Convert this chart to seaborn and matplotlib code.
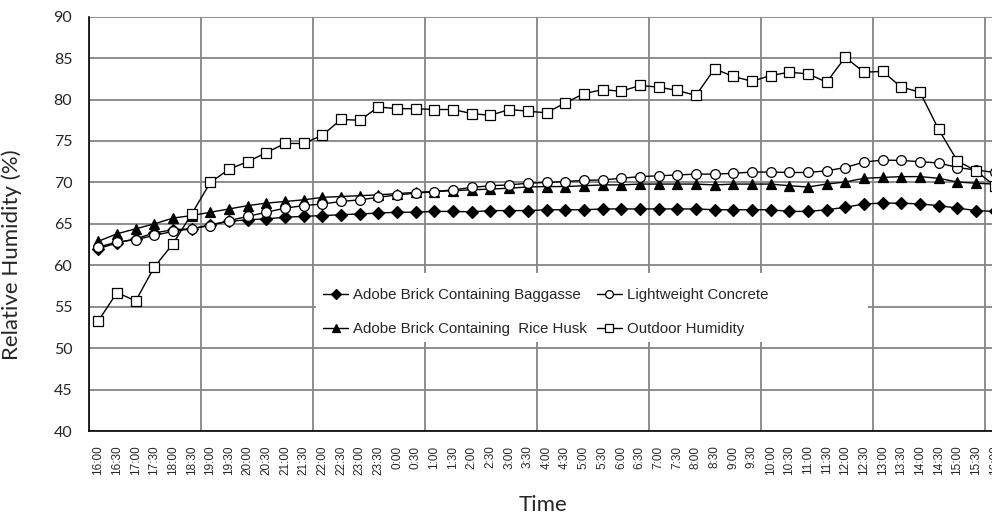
import numpy as np
import pandas as pd
import matplotlib
matplotlib.use('Agg')
import matplotlib.pyplot as plt
from matplotlib.lines import Line2D
from matplotlib.patches import Rectangle
import seaborn as sns

sns.set_style('white')

# time of day, every half hour from 16:00 to 16:00 next day
times = ['16:00', '16:30', '17:00', '17:30', '18:00', '18:30', '19:00', '19:30',
         '20:00', '20:30', '21:00', '21:30', '22:00', '22:30', '23:00', '23:30',
         '0:00', '0:30', '1:00', '1:30', '2:00', '2:30', '3:00', '3:30',
         '4:00', '4:30', '5:00', '5:30', '6:00', '6:30', '7:00', '7:30',
         '8:00', '8:30', '9:00', '9:30', '10:00', '10:30', '11:00', '11:30',
         '12:00', '12:30', '13:00', '13:30', '14:00', '14:30', '15:00', '15:30',
         '16:00']

baggasse = [62.0, 62.7, 63.2, 63.9, 64.3, 64.4, 64.9, 65.3, 65.5, 65.6, 65.8, 65.9,
            66.0, 66.1, 66.2, 66.3, 66.4, 66.4, 66.5, 66.5, 66.45, 66.6, 66.6, 66.6,
            66.7, 66.7, 66.7, 66.8, 66.8, 66.8, 66.8, 66.8, 66.8, 66.7, 66.7, 66.7,
            66.7, 66.5, 66.5, 66.7, 67.0, 67.4, 67.5, 67.5, 67.4, 67.2, 66.9, 66.6,
            66.5]

rice_husk = [62.9, 63.8, 64.4, 65.0, 65.7, 66.0, 66.4, 66.8, 67.2, 67.5, 67.7, 67.9,
             68.2, 68.3, 68.4, 68.5, 68.65, 68.8, 68.9, 69.0, 69.1, 69.2, 69.3, 69.45,
             69.5, 69.5, 69.6, 69.7, 69.7, 69.8, 69.8, 69.8, 69.8, 69.7, 69.8, 69.8,
             69.8, 69.6, 69.45, 69.8, 70.05, 70.5, 70.6, 70.7, 70.7, 70.5, 70.05, 69.9,
             69.8]

lightweight = [62.2, 62.8, 63.1, 63.6, 64.1, 64.4, 64.8, 65.4, 65.9, 66.4, 66.9, 67.2,
               67.4, 67.7, 67.9, 68.2, 68.5, 68.7, 68.9, 69.1, 69.4, 69.6, 69.7, 69.9,
               70.0, 70.1, 70.25, 70.3, 70.5, 70.7, 70.8, 70.9, 71.0, 71.0, 71.1, 71.25,
               71.25, 71.2, 71.2, 71.4, 71.8, 72.45, 72.7, 72.65, 72.5, 72.35, 71.8, 71.5,
               71.2]

outdoor = [53.3, 56.7, 55.7, 59.8, 62.6, 66.2, 70.0, 71.6, 72.5, 73.6, 74.7, 74.7,
           75.7, 77.6, 77.5, 79.1, 78.9, 78.9, 78.8, 78.8, 78.3, 78.1, 78.8, 78.6,
           78.4, 79.6, 80.7, 81.2, 81.0, 81.7, 81.5, 81.1, 80.5, 83.7, 82.8, 82.2,
           82.9, 83.3, 83.1, 82.1, 85.1, 83.3, 83.4, 81.5, 80.9, 76.4, 72.6, 71.4,
           69.6]

labels = ['Adobe Brick Containing Baggasse', 'Adobe Brick Containing  Rice Husk',
          'Lightweight Concrete', 'Outdoor Humidity']

df = pd.DataFrame({'pos': np.arange(len(times)), 'time': times,
                   labels[0]: baggasse, labels[1]: rice_husk,
                   labels[2]: lightweight, labels[3]: outdoor})

styles = {
    labels[0]: dict(marker='D', markersize=6, markerfacecolor='black'),
    labels[1]: dict(marker='^', markersize=7.5, markerfacecolor='black'),
    labels[2]: dict(marker='o', markersize=7, markerfacecolor='white'),
    labels[3]: dict(marker='s', markersize=7, markerfacecolor='white'),
}

fig = plt.figure(figsize=(9.92, 5.14), dpi=100)
# plot area runs past the right edge of the picture, as in the original
ax = fig.add_axes([89 / 992, 83 / 514, 915 / 992, 414.3 / 514])

for name in labels:
    sns.lineplot(data=df, x='pos', y=name, ax=ax, color='black', linewidth=1,
                 markeredgecolor='black', markeredgewidth=0.9, zorder=3,
                 **styles[name])

ax.set_xlim(-0.5, len(times) - 0.5)
ax.set_ylim(40, 90)
ax.set_yticks(np.arange(40, 91, 5))
ax.set_xticks(df['pos'])
ax.set_xticklabels(times, rotation=90, fontsize=8.5, family='Liberation Sans')
ax.set_xticks(np.arange(-0.5, len(times), 6), minor=True)
for lab in ax.get_yticklabels():
    lab.set_family('Lato')
    lab.set_fontsize(11.5)
ax.tick_params(axis='x', which='both', length=0, pad=10.5)
ax.tick_params(axis='y', length=2, pad=10, color='#808080')

ax.grid(False)
ax.grid(True, axis='y', which='major', color='#858585', linewidth=1.3)
ax.grid(True, axis='x', which='minor', color='#858585', linewidth=1.3)
ax.set_axisbelow(True)

for s in ['top', 'right']:
    ax.spines[s].set_visible(False)
for s in ['left', 'bottom']:
    ax.spines[s].set_color('black')
    ax.spines[s].set_linewidth(1.2)

ax.set_xlabel('Time', fontsize=16, family='Lato')
ax.xaxis.set_label_coords((543 - 89) / 915, -0.154)
ax.set_ylabel('Relative Humidity (%)', fontsize=16, family='Lato')
ax.yaxis.set_label_coords((22 - 89) / 915, 0.425)

# white legend area hiding the grid, wider than the entries
ax.add_patch(Rectangle((316 / 992, 1 - 342 / 514), 552 / 992, 69 / 514,
                       transform=fig.transFigure, facecolor='white',
                       edgecolor='none', zorder=1, clip_on=False))

handles = [Line2D([], [], color='black', linewidth=1, markeredgecolor='black',
                  markeredgewidth=0.9, **styles[n]) for n in labels]
leg = fig.legend(handles, labels, ncol=2, loc='upper left',
                 bbox_to_anchor=(315.5 / 992, 1 - 281 / 514),
                 prop={'family': 'Liberation Sans', 'size': 10.8},
                 frameon=False, handlelength=1.67, handletextpad=0.33,
                 columnspacing=0.67, labelspacing=1.3, borderpad=0.5,
                 markerscale=0.8, borderaxespad=0)

fig.savefig('out.png', dpi=100)
